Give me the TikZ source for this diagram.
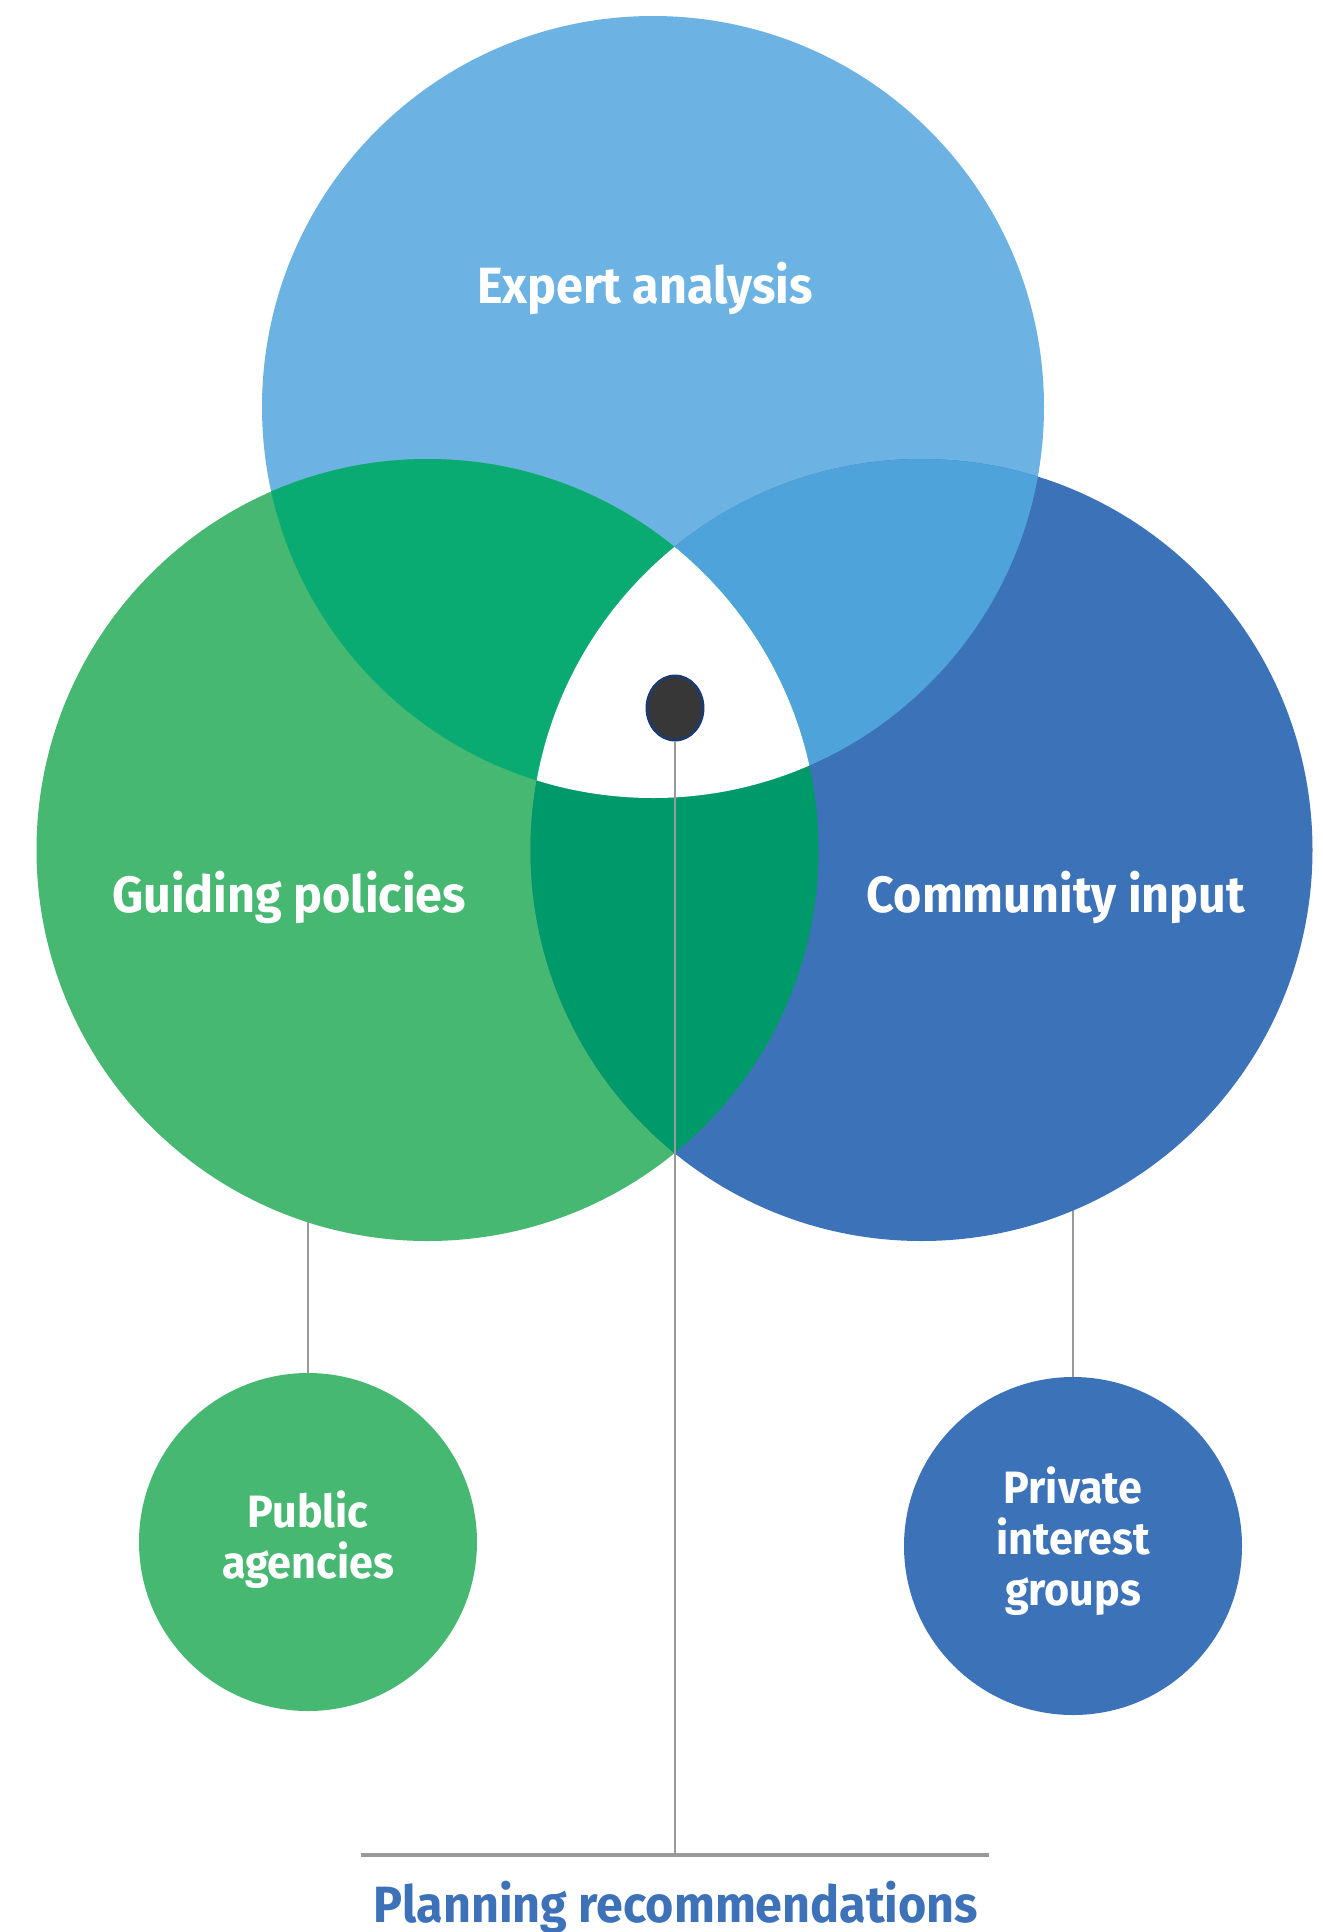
\documentclass[tikz,border=0pt]{standalone}
\usepackage{fontspec}
\setmainfont{Fira Sans}[FakeStretch=0.95]
\usetikzlibrary{shapes.geometric}
\definecolor{cExpert}{HTML}{6CB3E3}
\definecolor{cGuide}{HTML}{47B872}
\definecolor{cComm}{HTML}{3C72B7}
\definecolor{cTL}{HTML}{0AAB73}
\definecolor{cTR}{HTML}{4EA4DA}
\definecolor{cBot}{HTML}{009A6A}
\definecolor{cText}{HTML}{3D72B8}
\definecolor{cLine}{HTML}{9A9A9A}
\definecolor{cDot}{HTML}{373737}
\definecolor{cDotRim}{HTML}{1C3A6C}
\tikzset{
  bigcirc/.style={circle, inner sep=0pt, outer sep=0pt, minimum size=782*0.75pt},
  smallcirc/.style={circle, inner sep=0pt, outer sep=0pt, minimum size=338*0.75pt},
  biglabel/.style={text=white, font=\fontsize{38.25}{38.25}\selectfont\bfseries, anchor=base, inner sep=0pt},
  smalllabel/.style={text=white, font=\fontsize{34}{38.25}\selectfont\bfseries, align=center, inner sep=0pt},
  connector/.style={draw=cLine, line width=2.2pt},
}
\begin{document}
\begin{tikzpicture}[x=0.75pt,y=-0.75pt]
\useasboundingbox (0,0) rectangle (1322,1932);
% centres
\coordinate (cE) at (653,407);
\coordinate (cG) at (427.5,850);
\coordinate (cC) at (921.5,850);
% small circles
\node[smallcirc, fill=cGuide] (pub) at (308,1542) {};
\node[smallcirc, fill=cComm] (priv) at (1073,1546) {};
% connectors from the big circles (drawn before the circles so they start at the rim)
\draw[connector] (pub.north) -- (pub.north |- cG);
\draw[connector] (priv.north) -- (priv.north |- cC);
% big circles
\node[bigcirc, fill=cExpert] (expert) at (cE) {};
\node[bigcirc, fill=cGuide] (guide) at (cG) {};
\node[bigcirc, fill=cComm] (comm) at (cC) {};
% overlaps
\begin{scope}
  \clip (cE) circle (391);
  \fill[cTL] (cG) circle (391);
\end{scope}
\begin{scope}
  \clip (cE) circle (391);
  \fill[cTR] (cC) circle (391);
\end{scope}
\begin{scope}
  \clip (cG) circle (391);
  \fill[cBot] (cC) circle (391);
\end{scope}
\begin{scope}
  \clip (cE) circle (391);
  \clip (cG) circle (391);
  \fill[white] (cC) circle (391);
\end{scope}
% labels
\node[biglabel] (lE) at (645,303) {Expert analysis};
\node[biglabel] (lG) at (289,912) {Guiding policies};
\node[biglabel] (lC) at (1056,912) {Community input};
\node[smalllabel] (lP) at (308,1540) {Public\\agencies};
\node[smalllabel] (lV) at (1073,1541) {Private\\interest\\groups};
% planning recommendations
\coordinate (hL) at (361,1855);
\coordinate (hR) at (989,1855);
\coordinate (hM) at (675,1855);
\draw[draw=cLine, line width=2.8pt] (hL) -- (hR);
\node[draw=cDotRim, fill=cDot, line width=2.2pt, ellipse, inner sep=0pt, minimum width=56*0.75pt, minimum height=64*0.75pt] (dot) at (675,708) {};
\draw[draw=cLine, line width=2.2pt] (dot.south) -- (hM);
\node[text=cText, font=\fontsize{38.25}{38.25}\selectfont\bfseries, anchor=base, inner sep=0pt] (plan) at (676,1922) {Planning recommendations};
\end{tikzpicture}
\end{document}
